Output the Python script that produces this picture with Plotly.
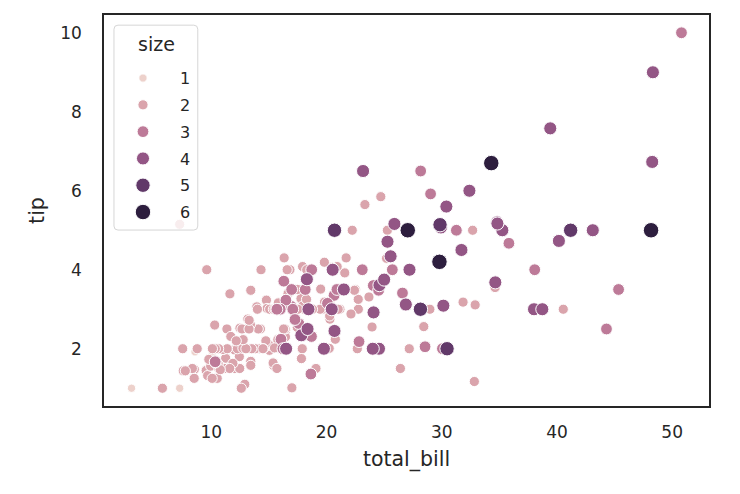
import math
import plotly.graph_objects as go

total_bill = [16.99,10.34,21.01,23.68,24.59,25.29,8.77,26.88,15.04,14.78,10.27,35.26,15.42,18.43,14.83,21.58,10.33,16.29,16.97,20.65,
17.92,20.29,15.77,39.42,19.82,17.81,13.37,12.69,21.7,19.65,9.55,18.35,15.06,20.69,17.78,24.06,16.31,16.93,18.69,31.27,
16.04,17.46,13.94,9.68,30.4,18.29,22.23,32.4,28.55,18.04,12.54,10.29,34.81,9.94,25.56,19.49,38.01,26.41,11.24,48.27,
20.29,13.81,11.02,18.29,17.59,20.08,16.45,3.07,20.23,15.01,12.02,17.07,26.86,25.28,14.73,10.51,17.92,27.2,22.76,17.29,
19.44,16.66,10.07,32.68,15.98,34.83,13.03,18.28,24.71,21.16,28.97,22.49,5.75,16.32,22.75,40.17,27.28,12.03,21.01,12.46,
11.35,15.38,44.3,22.42,20.92,15.36,20.49,25.21,18.24,14.31,14.0,7.25,38.07,23.95,25.71,17.31,29.93,10.65,12.43,24.08,
11.69,13.42,14.26,15.95,12.48,29.8,8.52,14.52,11.38,22.82,19.08,20.27,11.17,12.26,18.26,8.51,10.33,14.15,16.0,13.16,
17.47,34.3,41.19,27.05,16.43,8.35,18.64,11.87,9.78,7.51,14.07,13.13,17.26,24.55,19.77,29.85,48.17,25.0,13.39,16.49,
21.5,12.66,16.21,13.81,17.51,24.52,20.76,31.71,10.59,10.63,50.81,15.81,7.25,31.85,16.82,32.9,17.89,14.48,9.6,34.63,
34.65,23.33,45.35,23.17,40.55,20.69,20.9,30.46,18.15,23.1,15.69,19.81,28.44,15.48,16.58,7.56,10.34,43.11,13.0,13.51,
18.71,12.74,13.0,16.4,20.53,16.47,26.59,38.73,24.27,12.76,30.06,25.89,48.33,13.27,28.17,12.9,28.15,11.59,7.74,30.14,
12.16,13.42,8.58,15.98,13.42,16.27,10.09,20.45,13.28,22.12,24.01,15.69,11.61,10.77,15.53,10.07,12.6,32.83,35.83,29.03,
27.18,22.67,17.82,18.78]

tip = [1.01,1.66,3.5,3.31,3.61,4.71,2.0,3.12,1.96,3.23,1.71,5.0,1.57,3.0,3.02,3.92,1.67,3.71,3.5,3.35,
4.08,2.75,2.23,7.58,3.18,2.34,2.0,2.0,4.3,3.0,1.45,2.5,3.0,2.45,3.27,3.6,2.0,3.07,2.31,5.0,
2.24,2.54,3.06,1.32,5.6,3.0,5.0,6.0,2.05,3.0,2.5,2.6,5.2,1.56,4.34,3.51,3.0,1.5,1.76,6.73,
3.21,2.0,1.98,3.76,2.64,3.15,2.47,1.0,2.01,2.09,1.97,3.0,3.14,5.0,2.2,1.25,3.08,4.0,3.0,2.71,
3.0,3.4,1.83,5.0,2.03,5.17,2.0,4.0,5.85,3.0,3.0,3.5,1.0,4.3,3.25,4.73,4.0,1.5,3.0,1.5,
2.5,3.0,2.5,3.48,4.08,1.64,4.06,4.29,3.76,4.0,3.0,1.0,4.0,2.55,4.0,3.5,5.07,1.5,1.8,2.92,
2.31,1.68,2.5,2.0,2.52,4.2,1.48,2.0,2.0,2.18,1.5,2.83,1.5,2.0,3.25,1.25,2.0,2.0,2.0,2.75,
3.5,6.7,5.0,5.0,2.3,1.5,1.36,1.63,1.73,2.0,2.5,2.0,2.74,2.0,2.0,5.14,5.0,3.75,2.61,2.0,
3.5,2.5,2.0,2.0,3.0,3.48,2.24,4.5,1.61,2.0,10.0,3.16,5.15,3.18,4.0,3.11,2.0,2.0,4.0,3.55,
3.68,5.65,3.5,6.5,3.0,5.0,3.5,2.0,3.5,4.0,1.5,4.19,2.56,2.02,4.0,1.44,2.0,5.0,2.0,2.0,
4.0,2.01,2.0,2.5,4.0,3.23,3.41,3.0,2.03,2.23,2.0,5.16,9.0,2.5,6.5,1.1,3.0,1.5,1.44,3.09,
2.2,3.48,1.92,3.0,1.58,2.5,2.0,3.0,2.72,2.88,2.0,3.0,3.39,1.47,3.0,1.25,1.0,1.17,4.67,5.92,
2.0,2.0,1.75,3.0]

size = [2,3,3,2,4,4,2,4,2,2,2,4,2,4,2,2,3,3,3,3,
2,2,2,4,2,4,2,2,2,2,2,4,2,4,2,3,3,3,3,3,
3,2,2,2,4,2,2,4,3,2,2,2,4,2,4,2,4,2,2,4,
2,2,2,4,3,3,2,1,2,2,2,3,2,2,2,2,2,4,2,2,
2,2,1,2,2,4,2,2,2,2,2,2,2,2,2,4,2,2,2,2,
2,2,3,2,2,2,2,2,2,2,2,1,3,2,3,2,4,2,2,4,
2,2,2,2,2,6,2,2,2,3,2,2,2,2,2,2,2,2,2,2,
2,6,5,6,2,2,3,2,2,2,2,2,3,4,4,5,6,4,2,4,
4,2,3,2,2,3,2,4,2,2,3,2,2,2,2,2,2,2,2,2,
4,2,3,4,2,5,3,5,3,3,2,2,2,2,2,2,2,4,2,2,
3,2,2,2,4,3,3,4,2,2,3,4,4,2,3,2,5,2,2,4,
2,2,1,3,2,2,2,4,2,2,4,3,2,2,2,2,2,2,3,3,
2,2,2,2]

levels = [1, 2, 3, 4, 5, 6]
marker_px = [8.25, 10.2, 11.8, 13.1, 14.4, 15.5]


def cubehelix(x, start=0.0, rot=0.4, gamma=1.0, hue=0.8):
    xg = x ** gamma
    a = hue * xg * (1 - xg) / 2
    phi = 2 * math.pi * (start / 3 + rot * x)
    r = xg + a * (-0.14861 * math.cos(phi) + 1.78277 * math.sin(phi))
    g = xg + a * (-0.29227 * math.cos(phi) - 0.90649 * math.sin(phi))
    b = xg + a * (1.97294 * math.cos(phi))
    c = [max(0, min(1, v)) for v in (r, g, b)]
    return "rgb(%d,%d,%d)" % tuple(round(v * 255) for v in c)


def level_color(s):
    t = (s - min(levels)) / (max(levels) - min(levels))
    return cubehelix(0.85 - 0.7 * t)


fig = go.Figure()
for lv, mpx in zip(levels, marker_px):
    xs = [b for b, s in zip(total_bill, size) if s == lv]
    ys = [t for t, s in zip(tip, size) if s == lv]
    fig.add_trace(go.Scatter(
        x=xs, y=ys, mode="markers", name=str(lv), legendgroup=str(lv),
        marker=dict(size=mpx, color=level_color(lv), line=dict(color="white", width=1)),
    ))

font = "DejaVu Sans, Liberation Sans, sans-serif"
axis_common = dict(
    showline=True, linecolor="#262626", linewidth=1.6, mirror=True,
    showgrid=False, zeroline=False, ticks="", automargin=False,
    tickfont=dict(family=font, size=17, color="#262626"),
)

# legend frame (paper coordinates) with slightly rounded corners
fx0, fx1, fy0, fy1 = 0.0165, 0.155, 0.450, 0.974
rx, ry = 4 / 605, 4 / 391
frame_path = (
    f"M {fx0+rx},{fy1} L {fx1-rx},{fy1} Q {fx1},{fy1} {fx1},{fy1-ry} "
    f"L {fx1},{fy0+ry} Q {fx1},{fy0} {fx1-rx},{fy0} "
    f"L {fx0+rx},{fy0} Q {fx0},{fy0} {fx0},{fy0+ry} "
    f"L {fx0},{fy1-ry} Q {fx0},{fy1} {fx0+rx},{fy1} Z"
)

fig.update_layout(
    width=732, height=486,
    margin=dict(l=96, r=31, t=7, b=88),
    paper_bgcolor="white", plot_bgcolor="white",
    font=dict(family=font, color="#262626"),
    xaxis=dict(range=[0.68, 53.2], tickvals=[10, 20, 30, 40, 50], ticklabelstandoff=10,
               title=dict(text="total_bill", font=dict(size=20.5, family=font, color="#262626"), standoff=10),
               **axis_common),
    yaxis=dict(range=[0.55, 10.45], tickvals=[2, 4, 6, 8, 10], ticklabelstandoff=17,
               title=dict(text="tip", font=dict(size=20.5, family=font, color="#262626"), standoff=10),
               **axis_common),
    shapes=[dict(type="path", xref="paper", yref="paper", path=frame_path,
                 line=dict(color="#d6d6d6", width=1), fillcolor="rgba(255,255,255,0.8)", layer="above")],
    annotations=[dict(text="size", xref="paper", yref="paper", x=0.0876, y=0.926,
                      xanchor="center", yanchor="middle", showarrow=False,
                      font=dict(size=19, family=font, color="#262626"))],
    legend=dict(
        font=dict(size=16, family=font, color="#262626"),
        x=0.0165, y=0.882, xanchor="left", yanchor="top",
        bgcolor="rgba(0,0,0,0)", borderwidth=0,
        itemsizing="trace", tracegroupgap=3, itemwidth=64, indentation=-8,
    ),
    showlegend=True,
)

fig.write_html("out.html")
